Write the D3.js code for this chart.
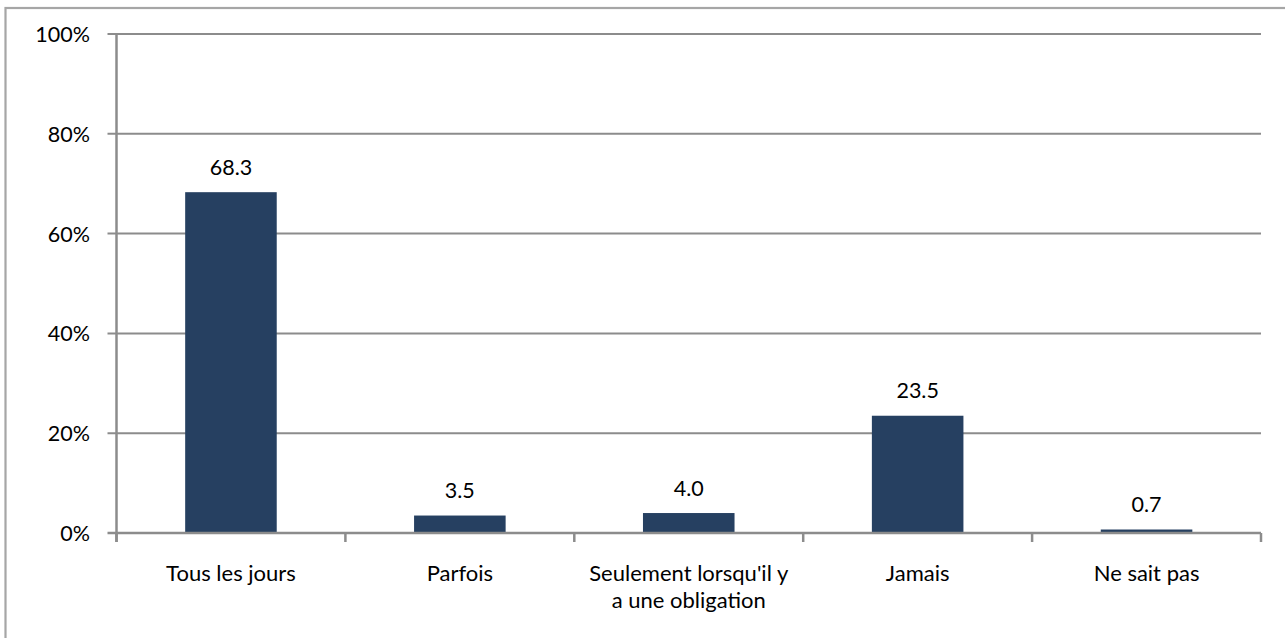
<!DOCTYPE html>
<html><head><meta charset="utf-8">
<script src="https://cdn.jsdelivr.net/npm/d3@7"></script>
<style>body{margin:0;background:#fff}svg{display:block}text{font-family:Lato,"Open Sans",sans-serif;fill:#000}</style>
</head><body><svg id="c" width="1285" height="638"></svg>
<script>
const categories = ["Tous les jours", "Parfois", "Seulement lorsqu'il y|a une obligation", "Jamais", "Ne sait pas"];
const values = [68.3, 3.5, 4.0, 23.5, 0.7];
const yTicks = [0, 20, 40, 60, 80, 100];

const svg = d3.select("#c");
const L = 116.5, R = 1261, T = 34, B = 533;
const FS = 21.5;
const x = d3.scaleBand().domain(categories).range([L, R]).paddingInner(0.6).paddingOuter(0.3);
const y = d3.scaleLinear().domain([0, 100]).range([B, T]);

// outer frame
svg.append("rect").attr("x", 5.5).attr("y", 8).attr("width", 1290).attr("height", 700)
  .attr("fill", "none").attr("stroke", "#a6a6a6").attr("stroke-width", 2.2);

// gridlines
svg.append("g").selectAll("line").data(yTicks.filter(d => d > 0)).join("line")
  .attr("x1", L - 9).attr("x2", R).attr("y1", d => y(d)).attr("y2", d => y(d))
  .attr("stroke", "#8c8c8c").attr("stroke-width", 2);

// y tick labels
svg.append("g").selectAll("text").data(yTicks).join("text")
  .attr("x", 90).attr("y", d => y(d) + 8).attr("text-anchor", "end")
  .attr("font-size", FS).text(d => d + "%");

// bars
svg.append("g").selectAll("rect").data(values).join("rect")
  .attr("x", (d, i) => x(categories[i])).attr("width", x.bandwidth())
  .attr("y", d => y(d)).attr("height", d => B - y(d)).attr("fill", "#264061");

// value labels
svg.append("g").selectAll("text").data(values).join("text")
  .attr("x", (d, i) => x(categories[i]) + x.bandwidth() / 2).attr("y", d => y(d) - 17.5)
  .attr("text-anchor", "middle").attr("font-size", FS).text(d => d.toFixed(1));

// y axis line
svg.append("line").attr("x1", L).attr("x2", L).attr("y1", T).attr("y2", B + 9)
  .attr("stroke", "#8c8c8c").attr("stroke-width", 2.5);
// x axis line
svg.append("line").attr("x1", L - 9).attr("x2", R).attr("y1", B).attr("y2", B)
  .attr("stroke", "#8c8c8c").attr("stroke-width", 2.5);
// category ticks
const step = (R - L) / categories.length;
svg.append("g").selectAll("line").data(d3.range(categories.length + 1)).join("line")
  .attr("x1", i => L + i * step).attr("x2", i => L + i * step).attr("y1", B).attr("y2", B + 9)
  .attr("stroke", "#8c8c8c").attr("stroke-width", 2.5);

// category labels
svg.append("g").selectAll("text").data(categories).join("text")
  .attr("text-anchor", "middle").attr("font-size", 22)
  .attr("transform", d => `translate(${x(d) + x.bandwidth() / 2},581)`)
  .each(function(d) {
    const lines = d.split("|");
    d3.select(this).selectAll("tspan").data(lines).join("tspan")
      .attr("x", 0).attr("y", (l, j) => j * 27).text(l => l);
  });
</script></body></html>
